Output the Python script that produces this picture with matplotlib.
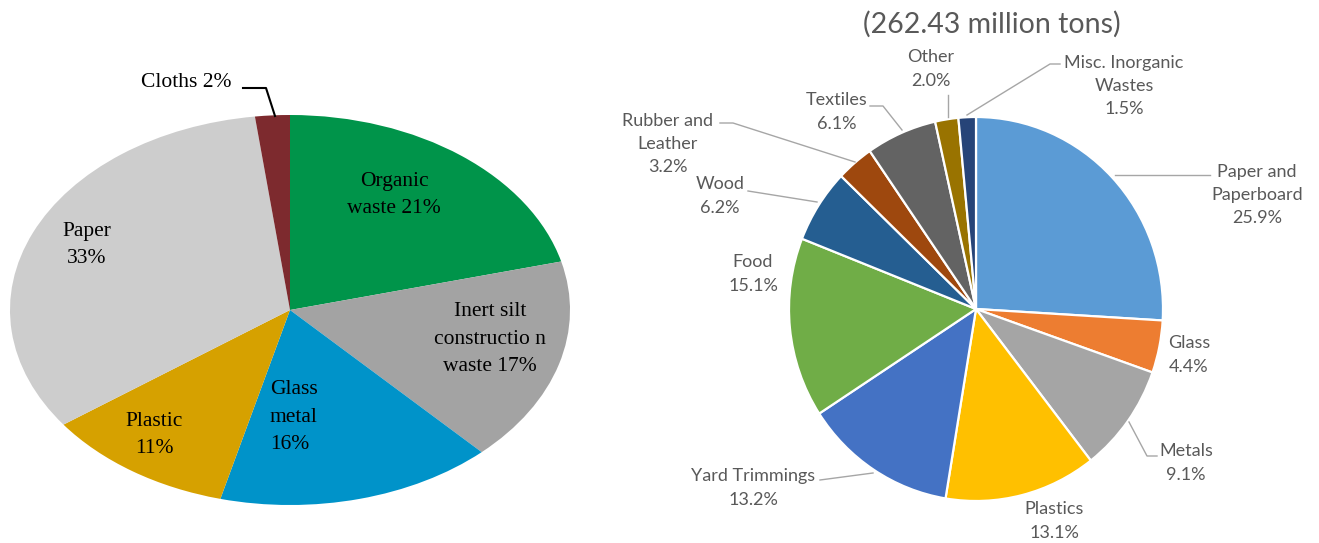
import matplotlib.pyplot as plt
from matplotlib.lines import Line2D

W, H = 1319, 543

# left chart data
left_labels = ['Organic\nwaste 21%', 'Inert silt\nconstructio n\nwaste 17%', 'Glass\nmetal\n16%',
               'Plastic\n11%', 'Paper\n33%', 'Cloths 2%']
left_values = [21, 17, 16, 11, 33, 2]
left_colors = ['#00944A', '#A3A3A3', '#0093C9', '#D6A100', '#CDCDCD', '#7D2A2E']

# right chart data
right_names = ['Paper and\nPaperboard', 'Glass', 'Metals', 'Plastics', 'Yard Trimmings', 'Food',
               'Wood', 'Rubber and\nLeather', 'Textiles', 'Other', 'Misc. Inorganic\nWastes']
right_values = [25.9, 4.4, 9.1, 13.1, 13.2, 15.1, 6.2, 3.2, 6.1, 2.0, 1.5]
right_colors = ['#5B9BD5', '#ED7D31', '#A5A5A5', '#FFC000', '#4472C4', '#70AD47',
                '#255E91', '#9E480E', '#636363', '#997300', '#264478']
right_title = '(262.43 million tons)'


def fx(x):
    return x / W


def fy(y):
    return 1 - y / H


fig = plt.figure(figsize=(W / 100, H / 100), dpi=100)

# left pie, stretched into an ellipse (centre 290,310 px; radii 280 x 195)
ax1 = fig.add_axes([fx(290 - 280), fy(310 + 195), 560 / W, 390 / H])
ax1.pie(left_values, colors=left_colors, startangle=90, counterclock=False,
        wedgeprops=dict(linewidth=0))
ax1.set_aspect('auto')
ax1.set_xlim(-1, 1)
ax1.set_ylim(-1, 1)
ax1.axis('off')

left_pos = [(394, 195, 'center'), (490, 339, 'center'), (270, 417, 'left'),
            (154, 435, 'center'), (87, 245, 'center'), (186, 82, 'center')]
for lab, (x, y, ha) in zip(left_labels, left_pos):
    fig.text(fx(x), fy(y), lab, ha=ha, va='center', ma=ha, fontsize=15.5,
             family='Liberation Serif', linespacing=1.6, color='black')

fig.add_artist(Line2D([fx(243), fx(266), fx(275)], [fy(88), fy(88), fy(116)],
                      color='black', lw=1.5))

# right pie (centre 976,309 px)
rx, ry = 187, 192
ax2 = fig.add_axes([fx(976 - rx), fy(309 + ry), 2 * rx / W, 2 * ry / H])
ax2.pie(right_values, colors=right_colors, startangle=90, counterclock=False,
        wedgeprops=dict(edgecolor='white', linewidth=1.6))
ax2.set_aspect('auto')
ax2.set_xlim(-1, 1)
ax2.set_ylim(-1, 1)
ax2.axis('off')

fig.text(fx(992), fy(24), right_title, ha='center', va='center', fontsize=20.5,
         family='Lato', color='#595959')

right_pos = [(1257, 195), (1189, 355), (1186, 463), (1054, 521), (753, 488), (753, 274),
             (720, 196), (668, 144), (837, 112), (931, 69), (1124, 86)]
for name, val, (x, y) in zip(right_names, right_values, right_pos):
    fig.text(fx(x), fy(y), '%s\n%.1f%%' % (name, val), ha='center', va='center',
             ma='center', fontsize=13, family='Lato', linespacing=1.55, color='#595959')

leaders = [
    [(1115, 175), (1210, 175)],
    [(1129, 422), (1147, 456), (1157, 456)],
    [(820, 480), (873, 473)],
    [(748, 191), (817, 202)],
    [(720, 123), (733, 123), (855, 162)],
    [(870, 106), (883, 106), (902, 130)],
    [(948, 95), (948, 117)],
    [(1060, 64), (1050, 64), (967, 115)],
]
for pts in leaders:
    fig.add_artist(Line2D([fx(p[0]) for p in pts], [fy(p[1]) for p in pts],
                          color='#A6A6A6', lw=1))

fig.savefig('out.png', dpi=100)
